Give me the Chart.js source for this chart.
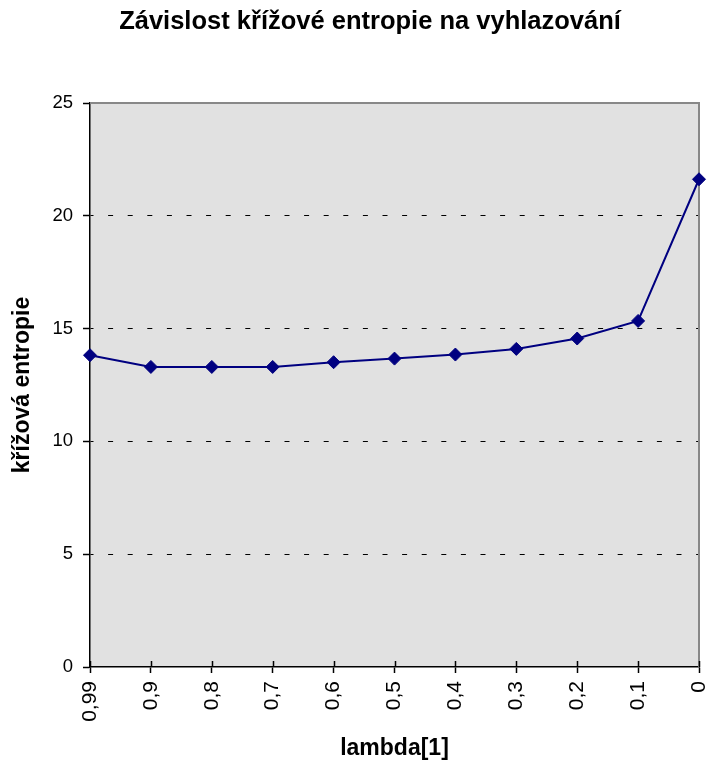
<!DOCTYPE html>
<html>
<head>
<meta charset="utf-8">
<script src="https://cdn.jsdelivr.net/npm/chart.js@4/dist/chart.umd.min.js"></script>
<style>
  html, body { margin: 0; padding: 0; background: #ffffff; }
  #wrap { width: 707px; height: 762px; }
</style>
</head>
<body>
<div id="wrap"><canvas id="chart" width="707" height="762"></canvas></div>
<script>
// Cross entropy as a function of the smoothing weight lambda
const chartTitle = 'Závislost křížové entropie na vyhlazování';
const xAxisTitle = 'lambda[1]';
const yAxisTitle = 'křížová entropie';
const lambdaLabels = ['0,99', '0,9', '0,8', '0,7', '0,6', '0,5', '0,4', '0,3', '0,2', '0,1', '0'];
const crossEntropy = [13.82, 13.3, 13.3, 13.3, 13.51, 13.67, 13.85, 14.1, 14.56, 15.34, 21.62];
const yTickValues = [0, 5, 10, 15, 20, 25];

const FONT = '"Liberation Sans", Arial, Helvetica, sans-serif';
const PLOT_BG = '#e1e1e1';
const SERIES_COLOR = '#000080';

// Grey plot background
const plotBackground = {
  id: 'plotBackground',
  beforeDraw(chart) {
    const { ctx, chartArea: a } = chart;
    ctx.save();
    ctx.fillStyle = PLOT_BG;
    ctx.fillRect(a.left, a.top, a.right - a.left, a.bottom - a.top);
    ctx.restore();
  }
};

// Grey top/right frame and the inner half of the category ticks
const plotFrame = {
  id: 'plotFrame',
  beforeDatasetsDraw(chart) {
    const { ctx, chartArea: a, scales } = chart;
    ctx.save();
    ctx.strokeStyle = '#888888';
    ctx.lineWidth = 2;
    ctx.beginPath();
    ctx.moveTo(a.left, a.top);
    ctx.lineTo(a.right, a.top);
    ctx.lineTo(a.right, a.bottom);
    ctx.stroke();

    ctx.strokeStyle = '#000000';
    ctx.lineWidth = 1.5;
    const xs = scales.x;
    ctx.beginPath();
    xs.ticks.forEach((t, i) => {
      const px = Math.round(xs.getPixelForTick(i)) + 0.5;
      ctx.moveTo(px, a.bottom);
      ctx.lineTo(px, a.bottom - 6);
    });
    ctx.stroke();
    ctx.restore();
  }
};

// Chart heading
const headingText = {
  id: 'headingText',
  afterDraw(chart) {
    const { ctx } = chart;
    ctx.save();
    ctx.fillStyle = '#000000';
    ctx.font = 'bold 25.5px ' + FONT;
    ctx.textAlign = 'center';
    ctx.textBaseline = 'middle';
    ctx.fillText(chartTitle, 370, 22);
    ctx.restore();
  }
};

new Chart(document.getElementById('chart'), {
  type: 'line',
  data: {
    labels: lambdaLabels,
    datasets: [{
      label: yAxisTitle,
      data: crossEntropy,
      borderColor: SERIES_COLOR,
      borderWidth: 2,
      backgroundColor: SERIES_COLOR,
      pointStyle: 'rectRot',
      pointRadius: 6.5,
      pointBorderWidth: 1,
      pointBackgroundColor: SERIES_COLOR,
      pointBorderColor: SERIES_COLOR,
      tension: 0,
      fill: false
    }]
  },
  options: {
    responsive: false,
    animation: false,
    devicePixelRatio: 1,
    layout: { padding: { top: 103, right: 8, left: 0, bottom: 0 } },
    plugins: {
      legend: { display: false },
      title: { display: false },
      tooltip: { enabled: false }
    },
    scales: {
      x: {
        type: 'category',
        offset: false,
        afterFit(scale) {
          scale.height = 95;
          scale.paddingLeft = 0;
          scale.paddingRight = 0;
        },
        grid: {
          display: true,
          drawOnChartArea: false,
          drawTicks: true,
          tickLength: 6,
          tickColor: '#000000',
          tickWidth: 1.5
        },
        border: { display: true, color: '#000000', width: 1.5 },
        ticks: {
          autoSkip: false,
          minRotation: 90,
          maxRotation: 90,
          padding: 8,
          color: '#000000',
          font: { family: FONT, size: 21 }
        },
        title: {
          display: true,
          text: xAxisTitle,
          color: '#000000',
          font: { family: FONT, size: 23, weight: 'bold' },
          padding: { top: 0, bottom: 0 }
        }
      },
      y: {
        min: 0,
        max: 25,
        afterFit(scale) {
          scale.width = 90;
          scale.paddingTop = 0;
          scale.paddingBottom = 0;
        },
        afterBuildTicks(scale) { scale.ticks = yTickValues.map(v => ({ value: v })); },
        grid: {
          color: (c) => (c.tick && c.tick.value > 0 && c.tick.value < 25) ? '#000000' : 'rgba(0,0,0,0)',
          lineWidth: 1,
          drawTicks: true,
          tickLength: 7,
          tickColor: '#000000',
          tickWidth: 1.5
        },
        border: { display: true, color: '#000000', width: 1.5, dash: [5, 14.6], dashOffset: 2 },
        ticks: {
          padding: 10,
          color: '#000000',
          font: { family: FONT, size: 18.5 }
        },
        title: {
          display: true,
          text: yAxisTitle,
          color: '#000000',
          font: { family: FONT, size: 23, weight: 'bold' },
          padding: { top: 9, bottom: 0 }
        }
      }
    }
  },
  plugins: [plotBackground, plotFrame, headingText]
});
</script>
</body>
</html>
